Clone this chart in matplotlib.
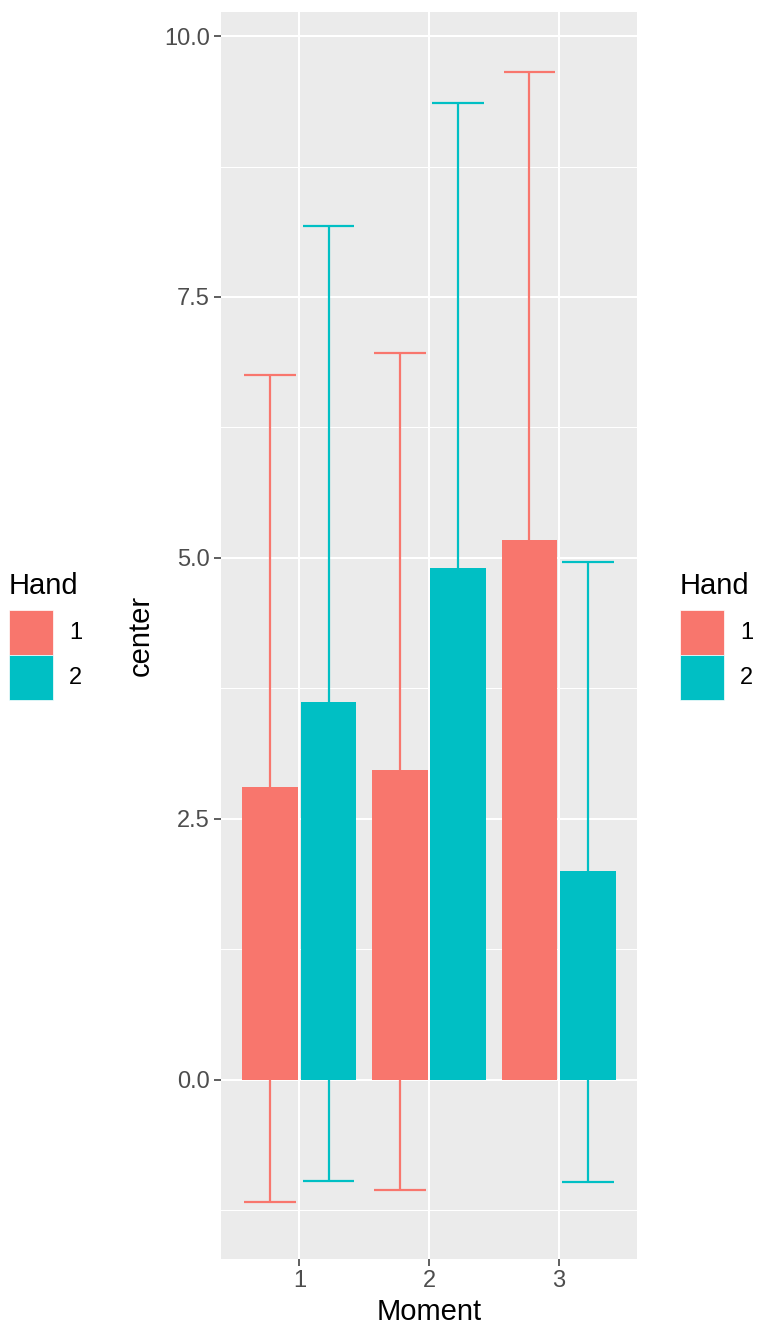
import numpy as np
import matplotlib.pyplot as plt
from matplotlib.patches import Patch

plt.rcParams['font.family'] = ['Liberation Sans', 'DejaVu Sans']

moments = [1, 2, 3]
hands = ['1', '2']
colors = ['#F8766D', '#00BFC4']
center = {'1': [2.81, 2.97, 5.17], '2': [3.62, 4.90, 2.00]}
upper = {'1': [6.75, 6.96, 9.66], '2': [8.18, 9.36, 4.96]}
lower = {'1': [-1.17, -1.05, 0.68], '2': [-0.97, 0.44, -0.98]}

fig = plt.figure(figsize=(7.59, 13.3), dpi=100)
ax = fig.add_axes([221/759, 71/1330, 416/759, 1247/1330])
ax.set_facecolor('#EBEBEB')

x = np.array(moments, dtype=float)
offs = [-0.225, 0.225]
for i, h in enumerate(hands):
    xx = x + offs[i]
    lo = np.array(lower[h])
    hi = np.array(upper[h])
    # error bars under the bars, like the ggplot layer order
    ax.vlines(xx, lo, hi, color=colors[i], lw=1.6, zorder=2)
    ax.hlines(lo, xx - 0.2, xx + 0.2, color=colors[i], lw=1.6, zorder=2)
    ax.hlines(hi, xx - 0.2, xx + 0.2, color=colors[i], lw=1.6, zorder=2)
    ax.bar(xx, center[h], width=0.43, color=colors[i], zorder=3)

ax.set_xlim(0.396, 3.604)
ax.set_ylim(-1.715, 10.23)
ax.set_xticks(moments)
ax.set_xticklabels([str(m) for m in moments])
ax.set_yticks([0, 2.5, 5, 7.5, 10])
ax.set_yticklabels(['0.0', '2.5', '5.0', '7.5', '10.0'])
ax.set_yticks([-1.25, 1.25, 3.75, 6.25, 8.75], minor=True)
ax.grid(which='major', color='white', lw=1.5, zorder=0)
ax.grid(which='minor', axis='y', color='white', lw=0.75, zorder=0)
ax.set_axisbelow(True)
for s in ax.spines.values():
    s.set_visible(False)
ax.tick_params(which='major', length=5, width=1.1, color='#333333',
               labelcolor='#4D4D4D', labelsize=17, pad=3)
ax.tick_params(which='minor', length=0)
ax.set_xlabel('Moment', fontsize=21, labelpad=4)
ax.set_ylabel('center', fontsize=21, labelpad=7)

handles = [Patch(facecolor=c, edgecolor='white', lw=0.5) for c in colors]
for xpos in [9/759, 680/759]:
    leg = fig.legend(handles, hands, title='Hand', loc='center left',
                     bbox_to_anchor=(xpos, 0.522), frameon=False, fontsize=17,
                     title_fontsize=21, handlelength=1.86, handleheight=2.55,
                     labelspacing=0, handletextpad=0.68, borderpad=0,
                     borderaxespad=0, alignment='left')
    leg._legend_box.sep = 7

fig.savefig('out.png', dpi=100)
